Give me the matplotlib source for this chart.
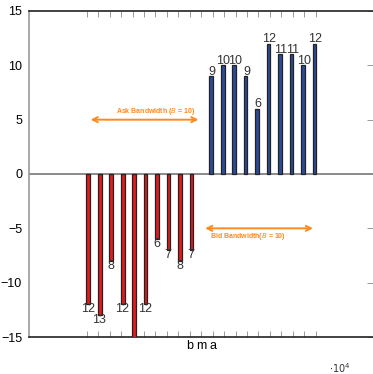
import numpy as np
import matplotlib
matplotlib.use("Agg")
import matplotlib.pyplot as plt
from matplotlib.patches import FancyArrowPatch

plt.rcParams['font.family'] = ['Liberation Sans', 'DejaVu Sans']

# Order book depth per price level (bids below zero, asks above)
bid_levels = np.arange(0, 10)
bid_sizes = [12, 13, 8, 12, 17, 12, 6, 7, 8, 7]
ask_levels = np.arange(11, 21)
ask_sizes = [9, 10, 10, 9, 6, 12, 11, 11, 10, 12]
price_ticks = np.arange(0, 21)
tick_labels = {9: "b", 10: "m", 11: "a"}
bandwidth = 10

fig = plt.figure(figsize=(3.73, 3.74), dpi=100)
ax = fig.add_axes([29 / 373, 37 / 374, 344 / 373, 326 / 374])

red = "#e41a1c"
blue = "#2b4c9b"
orange = "#ff8a1e"

ax.bar(bid_levels + 0.14, [-v for v in bid_sizes], width=0.32, color=red,
       edgecolor="#222222", linewidth=0.9, zorder=3)
ax.bar(ask_levels - 0.12, ask_sizes, width=0.32, color=blue,
       edgecolor="#222222", linewidth=0.9, zorder=3)

for x, v in zip(bid_levels, bid_sizes):
    ax.text(x + 0.1, -v + 0.1, str(v), ha="center", va="top", fontsize=9,
            color="#333333", clip_on=True)
for x, v in zip(ask_levels, ask_sizes):
    ax.text(x - 0.05, v - 0.15, str(v), ha="center", va="bottom", fontsize=9,
            color="#333333", clip_on=True)

ax.axhline(0, color="#8a8a8a", lw=1.4, zorder=2)

# bandwidth arrows
ask_arrow = FancyArrowPatch((0.1, 5), (10, 5), arrowstyle="<->",
                            mutation_scale=9, color=orange, lw=1.4)
ax.add_patch(ask_arrow)
ax.text(6.0, 5.2, "Ask Bandwidth ($B$ = %d)" % bandwidth, ha="center",
        va="bottom", fontsize=5, color=orange, fontweight="bold")
bid_arrow = FancyArrowPatch((10.1, -5), (20, -5), arrowstyle="<->",
                            mutation_scale=9, color=orange, lw=1.4)
ax.add_patch(bid_arrow)
ax.text(14.05, -5.2, "Bid Bandwidth($B$ = %d)" % bandwidth, ha="center",
        va="top", fontsize=5, color=orange, fontweight="bold")

ax.set_xlim(-5.04, 25.0)
ax.set_ylim(-15, 15)
ax.set_yticks([-15, -10, -5, 0, 5, 10, 15])
ax.set_yticklabels(["\u221215", "\u221210", "\u22125", "0", "5", "10", "15"])
ax.set_xticks(price_ticks)
ax.set_xticklabels([tick_labels.get(i, "") for i in price_ticks])

ax.tick_params(axis="x", direction="in", length=4, width=0.7, color="#999999",
               top=True, bottom=True, labelsize=9, pad=2)
ax.tick_params(axis="y", direction="in", length=4, width=0.7, color="#999999",
               left=False, right=True, labelsize=9, pad=5)

for side in ["top", "bottom"]:
    ax.spines[side].set_color("#222222")
    ax.spines[side].set_linewidth(1.2)
ax.spines["left"].set_color("#999999")
ax.spines["left"].set_linewidth(1.2)
ax.spines["right"].set_visible(False)

fig.text(340 / 373, 1 - 368 / 374, "$\\cdot 10^4$", fontsize=7,
         ha="center", va="center", color="#333333")

fig.savefig("out.png", dpi=100)
